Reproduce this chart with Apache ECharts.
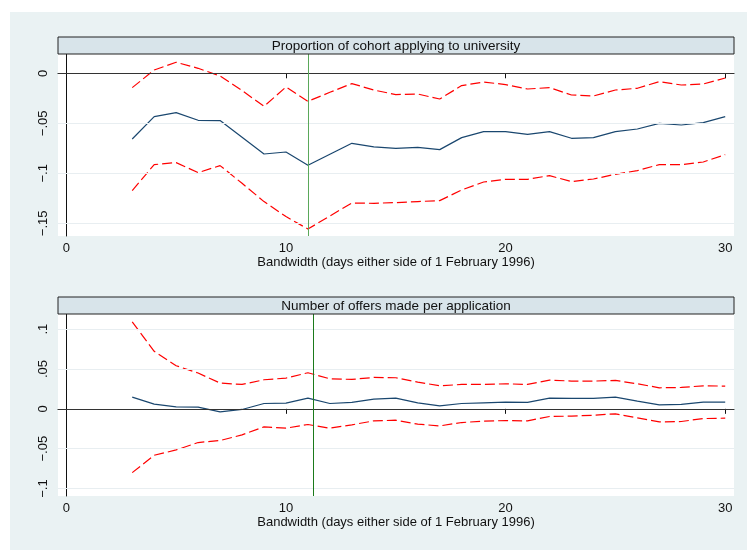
<!DOCTYPE html>
<html>
<head>
<meta charset="utf-8">
<script src="https://cdn.jsdelivr.net/npm/echarts@6/dist/echarts.min.js"></script>
<style>
  html, body { margin: 0; padding: 0; background: #fff; }
  #chart { position: absolute; left: 10px; top: 12px; width: 737px; height: 538px; }
</style>
</head>
<body>
<div id="chart"></div>
<script>
// bandwidth in days
const bandwidth = [3, 4, 5, 6, 7, 8, 9, 10, 11, 12, 13, 14, 15, 16, 17, 18, 19, 20, 21, 22, 23, 24, 25, 26, 27, 28, 29, 30];

// panel 1: proportion of cohort applying to university
const applyEst = [-0.0657, -0.0433, -0.0393, -0.047, -0.0473, -0.064, -0.0807, -0.0787, -0.092, -0.081, -0.07, -0.0735,
  -0.075, -0.074, -0.0763, -0.0643, -0.0583, -0.0583, -0.061, -0.0583, -0.065, -0.0643, -0.0583, -0.0557, -0.05, -0.0517, -0.0493, -0.0433];
const applyHigh = [-0.0143, 0.0033, 0.011, 0.005, -0.0027, -0.0173, -0.033, -0.0137, -0.028, -0.019, -0.0103, -0.0167,
  -0.0213, -0.0207, -0.0257, -0.0123, -0.0087, -0.0113, -0.0157, -0.0143, -0.0217, -0.0227, -0.0167, -0.015, -0.0083, -0.0117, -0.0107, -0.0047];
const applyLow = [-0.1173, -0.0913, -0.0893, -0.0993, -0.0923, -0.11, -0.1283, -0.1433, -0.1557, -0.1427, -0.1297, -0.13,
  -0.1293, -0.1283, -0.1273, -0.1167, -0.1087, -0.106, -0.106, -0.1023, -0.1083, -0.1057, -0.101, -0.0973, -0.0913, -0.0913, -0.0887, -0.0813];

// panel 2: number of offers made per application
const offerEst = [0.0147, 0.0059, 0.0025, 0.0021, -0.0038, -0.0008, 0.0067, 0.0071, 0.0134, 0.0067, 0.008, 0.0122,
  0.0134, 0.0075, 0.0038, 0.0067, 0.0075, 0.0084, 0.008, 0.0134, 0.013, 0.013, 0.0147, 0.0096, 0.005, 0.0055, 0.0084, 0.0084];
const offerHigh = [0.109, 0.0721, 0.0541, 0.0449, 0.0323, 0.0306, 0.0365, 0.0386, 0.0453, 0.0377, 0.0369, 0.0394,
  0.039, 0.0335, 0.0289, 0.0306, 0.0306, 0.0314, 0.0306, 0.0361, 0.0348, 0.0348, 0.0356, 0.0314, 0.0264, 0.0268, 0.0289, 0.0285];
const offerLow = [-0.0801, -0.0583, -0.0516, -0.0423, -0.0398, -0.0327, -0.0226, -0.0243, -0.0197, -0.0243, -0.0201, -0.0151,
  -0.0143, -0.0193, -0.0214, -0.0172, -0.0155, -0.0147, -0.0151, -0.0096, -0.0092, -0.008, -0.0063, -0.0113, -0.0164, -0.0159, -0.0122, -0.0117];

const xTicks = [0, 10, 20, 30];
const applyTicks = [-0.15, -0.1, -0.05, 0];
const offerTicks = [-0.1, -0.05, 0, 0.05, 0.1];

const panelTitles = ['Proportion of cohort applying to university', 'Number of offers made per application'];
const xName = 'Bandwidth (days either side of 1 February 1996)';
const cutoffs = [11, 11.24];

const FONT = 'Liberation Sans, Arial, sans-serif';

function stataNum(v) {
  if (v === 0) return '0';
  let s = String(Math.abs(v)).replace(/^0/, '');
  return (v < 0 ? '\u2212' : '') + s;
}
function pairs(ys) {
  return bandwidth.map((x, i) => [x, ys[i]]);
}

const myChart = echarts.init(document.getElementById('chart'));

const gridTops = [42, 302];
const plotLeft = 48, plotWidth = 676, plotHeight = 182, stripH = 17;

function xAxisFor(idx) {
  return {
    type: 'value', gridIndex: idx, min: -0.38, max: 30.4,
    name: xName, nameLocation: 'middle', nameGap: 19,
    nameTextStyle: { fontFamily: FONT, fontSize: 13, color: '#111' },
    axisLine: { show: true, lineStyle: { color: '#111', width: 1 } },
    axisTick: { show: true, length: 5, customValues: xTicks, lineStyle: { color: '#111' } },
    axisLabel: { customValues: xTicks, margin: 6, fontFamily: FONT, fontSize: 13, color: '#111' },
    splitLine: { show: false }
  };
}
function yAxisFor(idx, min, max, ticks) {
  return {
    type: 'value', gridIndex: idx, min: min, max: max,
    axisLine: { show: true, lineStyle: { color: '#111', width: 1 } },
    axisTick: { show: true, length: 5, customValues: ticks, lineStyle: { color: '#111' } },
    axisLabel: { customValues: ticks, rotate: 90, margin: 8, fontFamily: FONT, fontSize: 13, color: '#111', formatter: stataNum },
    splitLine: { show: false }
  };
}
function gridLines(ticks) {
  return ticks.filter(t => t !== 0).map(t => ({ yAxis: t }));
}
function panelSeries(idx, est, lo, hi, ticks, cutColor) {
  return [
    {
      type: 'line', xAxisIndex: idx, yAxisIndex: idx, data: [], silent: true,
      markLine: {
        symbol: 'none', silent: true, label: { show: false }, animation: false,
        lineStyle: { color: '#e8eef1', width: 1, type: 'solid' },
        data: gridLines(ticks)
      }
    },
    {
      type: 'line', xAxisIndex: idx, yAxisIndex: idx, data: [], silent: true,
      markLine: {
        symbol: 'none', silent: true, label: { show: false }, animation: false,
        data: [
          { yAxis: 0, lineStyle: { color: '#333', width: 1, type: 'solid' } },
          { xAxis: cutoffs[idx], lineStyle: { color: cutColor, width: 1, type: 'solid' } }
        ]
      }
    },
    {
      name: 'lower', type: 'line', xAxisIndex: idx, yAxisIndex: idx, data: pairs(lo),
      showSymbol: false, lineStyle: { color: '#ff0000', width: 1.2, type: [10, 4] }
    },
    {
      name: 'estimate', type: 'line', xAxisIndex: idx, yAxisIndex: idx, data: pairs(est),
      showSymbol: false, lineStyle: { color: '#1a476f', width: 1.2 }
    },
    {
      name: 'upper', type: 'line', xAxisIndex: idx, yAxisIndex: idx, data: pairs(hi),
      showSymbol: false, lineStyle: { color: '#ff0000', width: 1.2, type: [10, 4] }
    }
  ];
}

const strips = [];
gridTops.forEach((top, i) => {
  strips.push({
    type: 'rect', z: 10,
    shape: { x: plotLeft, y: top - stripH, width: plotWidth, height: stripH },
    style: { fill: '#d8e4ea', stroke: '#222', lineWidth: 1 }
  });
  strips.push({
    type: 'text', z: 11, x: plotLeft + plotWidth / 2, y: top - stripH / 2 + 0.5,
    style: { text: panelTitles[i], textAlign: 'center', textVerticalAlign: 'middle', font: '13.5px ' + FONT, fill: '#111' }
  });
});

const option = {
  backgroundColor: '#eaf2f3',
  animation: false,
  grid: gridTops.map(top => ({
    left: plotLeft, top: top, width: plotWidth, height: plotHeight,
    show: true, backgroundColor: '#ffffff', borderWidth: 0
  })),
  xAxis: [xAxisFor(0), xAxisFor(1)],
  yAxis: [yAxisFor(0, -0.1627, 0.0193, applyTicks), yAxisFor(1, -0.1094, 0.119, offerTicks)],
  graphic: strips,
  series: [
    ...panelSeries(0, applyEst, applyLow, applyHigh, applyTicks, '#5aa85a'),
    ...panelSeries(1, offerEst, offerLow, offerHigh, offerTicks, '#1b7a1b')
  ]
};

myChart.setOption(option);
</script>
</body>
</html>
